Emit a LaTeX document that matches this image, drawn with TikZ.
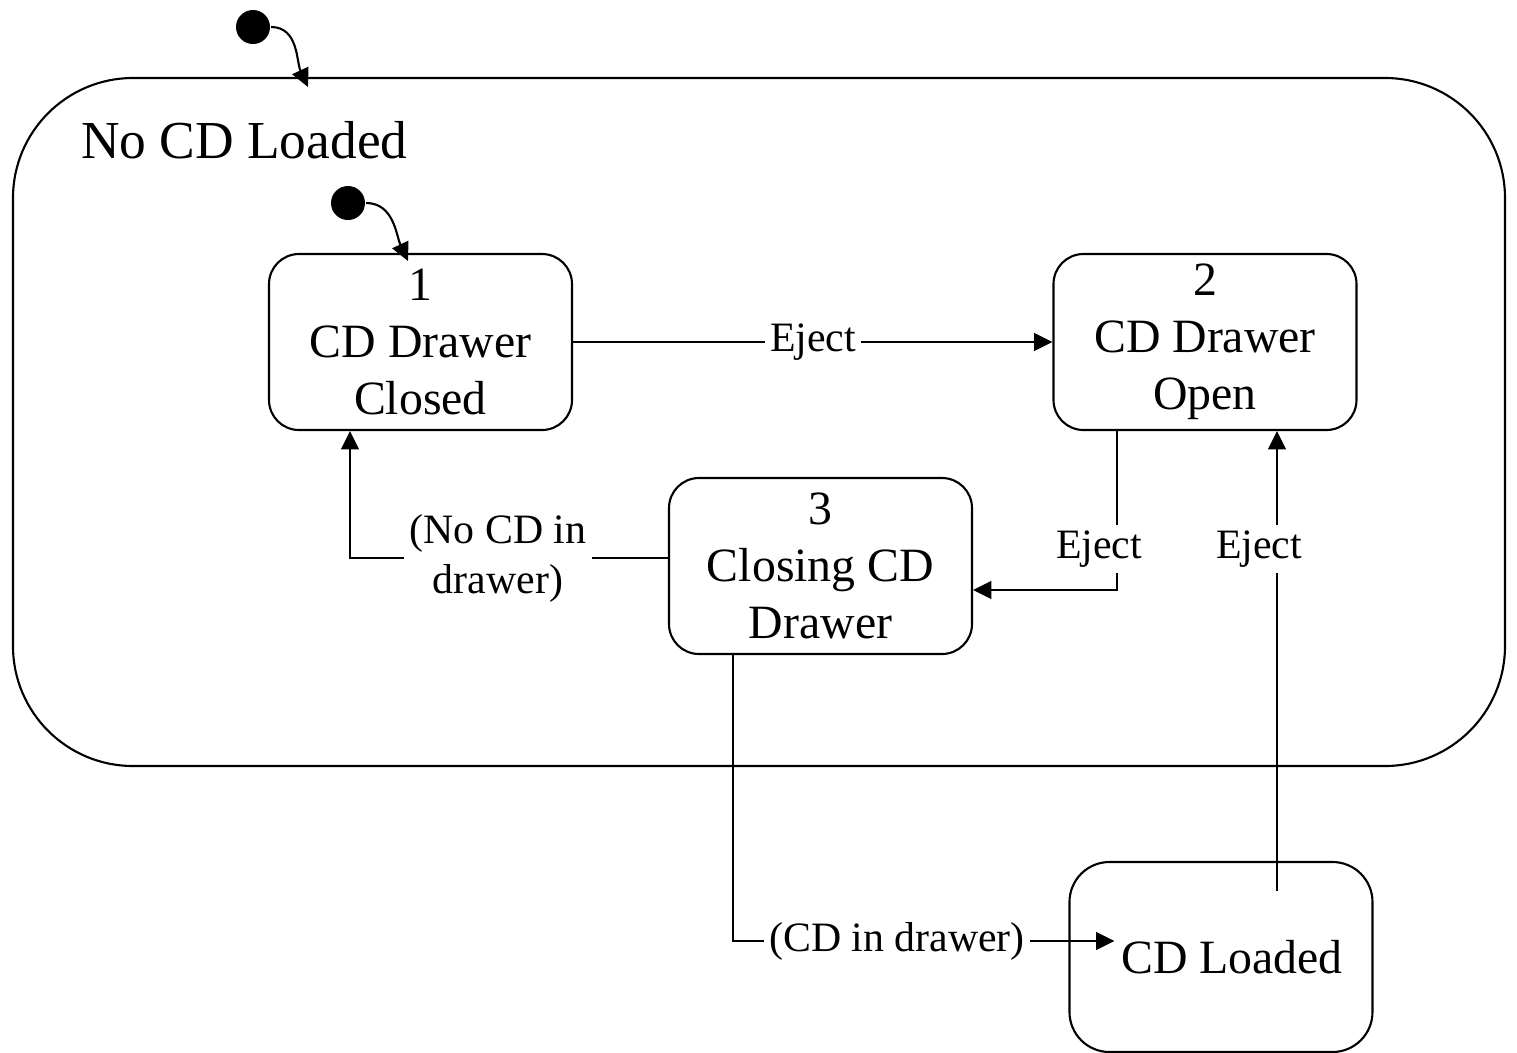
\documentclass[tikz,border=0pt]{standalone}
\usepackage{fontspec}
\setmainfont{Liberation Serif}
\usetikzlibrary{arrows.meta}

\begin{document}
\begin{tikzpicture}[line width=0.6pt,
    state/.style={rectangle, draw=black, rounded corners=0.3cm, minimum width=3.03cm, minimum height=1.76cm, inner sep=1pt, align=center, font=\fontsize{13.6}{16.2}\selectfont},
    outer/.style={rectangle, draw=black, rounded corners=1.2cm, minimum width=14.92cm, minimum height=6.88cm},
    init/.style={circle, fill=black, minimum size=0.34cm, inner sep=0pt},
    lbl/.style={fill=white, inner sep=1.5pt, align=center, font=\fontsize{11.9}{14.2}\selectfont},
    arr/.style={-{Triangle[length=5.2pt,width=5pt]}}
]
    \useasboundingbox (0,0) rectangle (15.17,-10.53);
    % Super state
    \node[outer] (noload) at (7.59,-4.22) {};
    \node[anchor=west, inner sep=0pt, font=\fontsize{15.2}{18}\selectfont] (title) at (0.80,-1.40) {No CD Loaded};
    % States
    \node[state] (s1) at (4.205,-3.42) {1\\CD Drawer\\Closed};
    \node[state] (s2) at (12.05,-3.42) {2\\CD Drawer\\Open};
    \node[state] (s3) at (8.205,-5.66) {3\\Closing CD\\Drawer};
    \node[state, minimum height=1.90cm, rounded corners=0.4cm] (ld) at (12.21,-9.57) {\hspace*{0.22cm}\raisebox{-0.05cm}{CD Loaded}};
    % Initial states
    \node[init] (i0) at (2.53,-0.27) {};
    \coordinate (t0) at (3.08,-0.87);
    \draw[arr] (i0) to[out=0, in=115] (t0);
    \node[init] (i1) at (3.48,-2.03) {};
    \coordinate (t1) at (4.08,-2.61);
    \draw[arr] (i1) to[out=0, in=115] (t1);
    % Transitions
    \draw[arr] (s1) -- (s2);
    \draw[arr] ([xshift=-0.88cm]s2.south) |- ([yshift=-0.24cm]s3.east);
    \draw[arr] ([yshift=0.08cm]s3.west) -| ([xshift=-0.705cm]s1.south);
    \coordinate (ldin) at ([xshift=0.46cm, yshift=0.16cm]ld.west);
    \draw[arr] ([xshift=-0.875cm]s3.south) |- (ldin);
    \coordinate (ldtop) at ([xshift=0.56cm, yshift=-0.30cm]ld.north);
    \draw[arr] (ldtop) -- (ldtop |- s2.south);
    % Labels
    \node[lbl] (e12) at (8.13,-3.42) {Eject};
    \node[lbl] (e23) at (10.99,-5.49) {Eject};
    \node[lbl] (eld) at (12.59,-5.49) {Eject};
    \node[lbl] (nocd) at (4.98,-5.58) {(No CD in\\drawer)};
    \node[lbl] (incd) at (8.97,-9.41) {(CD in drawer)};
\end{tikzpicture}
\end{document}
